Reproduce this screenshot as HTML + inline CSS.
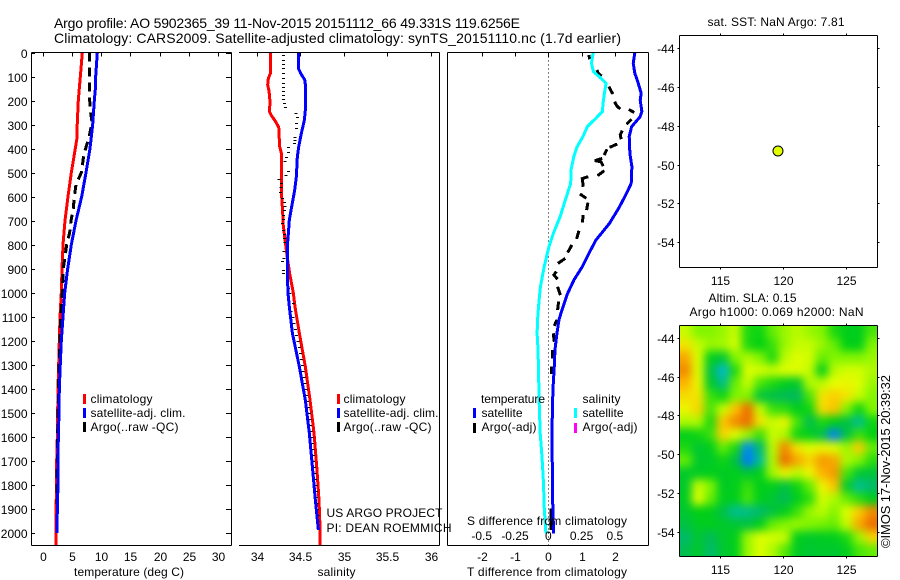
<!DOCTYPE html>
<html>
<head>
<meta charset="utf-8">
<title>Argo profile 5902365_39</title>
<style>
html,body{margin:0;padding:0;background:#fff;}
svg{display:block;}
text{font-family:"Liberation Sans",sans-serif;font-size:12px;fill:#000;}
.t14{font-size:14px;}
</style>
</head>
<body>
<svg id="fig" xmlns="http://www.w3.org/2000/svg" width="900" height="580" viewBox="0 0 900 580">
<defs>
<clipPath id="heatClip"><rect x="680" y="326" width="197" height="230"/></clipPath>
<filter id="heatBlur" x="-10%" y="-10%" width="120%" height="120%" color-interpolation-filters="sRGB"><feGaussianBlur stdDeviation="4.4"/></filter>
</defs>
<rect width="900" height="580" fill="#fff"/>

<text class="t14" x="54" y="28" textLength="466" lengthAdjust="spacing">Argo profile: AO 5902365_39 11-Nov-2015 20151112_66 49.331S 119.6256E</text>
<text class="t14" x="54" y="43" textLength="567" lengthAdjust="spacing">Climatology: CARS2009. Satellite-adjusted climatology: synTS_20151110.nc (1.7d earlier)</text>

<g id="temp-panel"></g>
<g id="sal-panel"></g>
<g id="diff-panel"></g>
<g id="sst-map"></g>
<g id="sla-map"></g>

<text x="74" y="576" textLength="110" lengthAdjust="spacing">temperature (deg C)</text>
<text x="317.5" y="576" textLength="38" lengthAdjust="spacing">salinity</text>
<text x="467" y="576" textLength="160" lengthAdjust="spacing">T difference from climatology</text>
<text x="467" y="525" textLength="160" lengthAdjust="spacing">S difference from climatology</text>

<g>
<rect x="83" y="394" width="3" height="10" fill="#f00"/>
<text x="90.5" y="403" textLength="62" lengthAdjust="spacing">climatology</text>
<rect x="83" y="408" width="3" height="10" fill="#00f"/>
<text x="90.5" y="417" textLength="95" lengthAdjust="spacing">satellite-adj. clim.</text>
<rect x="83" y="422" width="3" height="10" fill="#000"/>
<text x="90.5" y="431" textLength="88" lengthAdjust="spacing">Argo(..raw -QC)</text>
</g>
<g>
<rect x="337" y="394" width="3" height="10" fill="#f00"/>
<text x="343.5" y="403" textLength="62" lengthAdjust="spacing">climatology</text>
<rect x="337" y="408" width="3" height="10" fill="#00f"/>
<text x="343.5" y="417" textLength="95" lengthAdjust="spacing">satellite-adj. clim.</text>
<rect x="337" y="422" width="3" height="10" fill="#000"/>
<text x="343.5" y="431" textLength="88" lengthAdjust="spacing">Argo(..raw -QC)</text>
</g>
<g>
<text x="481" y="403" textLength="64" lengthAdjust="spacing">temperature</text>
<text x="582.5" y="403" textLength="38" lengthAdjust="spacing">salinity</text>
<rect x="473" y="408" width="3" height="10" fill="#00f"/>
<text x="481.5" y="417" textLength="41" lengthAdjust="spacing">satellite</text>
<rect x="473" y="423" width="3" height="10" fill="#000"/>
<text x="481.5" y="431" textLength="55" lengthAdjust="spacing">Argo(-adj)</text>
<rect x="574" y="408" width="3" height="10" fill="#0ff"/>
<text x="582.5" y="417" textLength="41" lengthAdjust="spacing">satellite</text>
<rect x="574" y="423" width="3" height="10" fill="#f0f"/>
<text x="582.5" y="431" textLength="55" lengthAdjust="spacing">Argo(-adj)</text>
</g>

<text x="326.5" y="517" textLength="116" lengthAdjust="spacing">US ARGO PROJECT</text>
<text x="326.5" y="532" textLength="125" lengthAdjust="spacing">PI: DEAN ROEMMICH</text>

<text x="707.5" y="26" textLength="137" lengthAdjust="spacing">sat. SST: NaN Argo: 7.81</text>
<text x="708.5" y="302" textLength="88" lengthAdjust="spacing">Altim. SLA: 0.15</text>
<text x="689.5" y="316" textLength="174" lengthAdjust="spacing">Argo h1000: 0.069 h2000: NaN</text>
<text transform="translate(890,548) rotate(-90)" style="font-size:13px" textLength="173" lengthAdjust="spacing">©IMOS 17-Nov-2015 20:39:32</text>
</svg>

<script>
// ---------- axis tick labels ----------
var depthTicks = [0,100,200,300,400,500,600,700,800,900,1000,1100,1200,1300,1400,1500,1600,1700,1800,1900,2000];
var tempTicks = [0,5,10,15,20,25,30];
var salTicks = [34,34.5,35,35.5,36];
var tDiffTicks = [-2,-1,0,1,2];
var sDiffTicks = [-0.5,-0.25,0,0.25,0.5];
var lonTicks = [115,120,125];
var latTicks = [-44,-46,-48,-50,-52,-54];

// ---------- temperature profiles ----------
var tempClimDepth = [0,100,200,300,350,400,500,600,700,800,900,1000,1100,1200,1300,1400,1500,1600,1700,1800,1900,2000,2052];
var tempClim = [6.77,6.43,6.08,5.9,5.9,5.57,4.89,4.32,3.81,3.47,3.3,3.18,2.96,2.84,2.73,2.61,2.56,2.5,2.39,2.39,2.27,2.27,2.27];
var tempSatDepth = [0,100,150,200,300,400,500,600,700,800,900,1000,1100,1200,1300,1400,1500,1600,1700,1800,1900,2000];
var tempSat = [9.33,9.05,9.0,8.82,8.54,8.08,7.4,6.66,5.69,4.89,4.27,3.76,3.47,3.18,3.0,2.84,2.78,2.67,2.61,2.61,2.5,2.44];
var tempArgoDepth = [0,180,240,290,360,420,500,550,600,650,700,750,800,850,900,1000,1100,1200,1300,1400,1600,1880];
var tempArgo = [7.97,7.97,8.14,8.42,7.86,7.06,6.6,5.69,5.4,5.23,4.84,4.6,4.1,3.81,3.52,3.35,3.1,2.95,2.78,2.7,2.55,2.4];

// ---------- salinity profiles ----------
var salClimDepth = [0,87,107,135,160,205,246,264,288,311,392,420,503,600,670,711,780,836,864,920,1002,1058,1168,1308,1447,1585,1724,1863,2000,2052];
var salClim = [34.157,34.157,34.134,34.126,34.142,34.153,34.146,34.172,34.218,34.253,34.264,34.284,34.287,34.287,34.299,34.303,34.326,34.345,34.356,34.379,34.421,34.44,34.49,34.559,34.613,34.659,34.69,34.716,34.73,34.73];
var salSatDepth = [0,66,87,114,142,225,281,337,392,434,517,572,642,697,753,808,920,1002,1058,1168,1308,1447,1585,1724,1863,1988];
var salSat = [34.479,34.479,34.506,34.552,34.563,34.563,34.548,34.513,34.483,34.467,34.456,34.437,34.402,34.375,34.364,34.352,34.352,34.36,34.375,34.41,34.49,34.559,34.605,34.64,34.674,34.709];
var salArgoDepth = [10,31,48,66,87,108,126,142,160,177,195,212,228,250,267,295,316,350,364,378,395,413,434,450,492,511,528,545,559,579,607,621,638,656,677,693,711,739,756,773,787,825,857,866,905,919,982,1003,1044,1075,1100,1125,1150,1175,1200,1225,1250,1275,1300,1325,1350,1375,1400,1425,1450,1475,1500,1525,1550,1575,1600,1625,1650,1675,1700,1725,1750,1775,1800,1825,1850,1875,1900,1925,1950];
var salArgo = [34.307,34.307,34.307,34.307,34.307,34.307,34.307,34.307,34.307,34.307,34.307,34.318,34.33,34.452,34.471,34.46,34.46,34.441,34.441,34.433,34.364,34.364,34.345,34.326,34.364,34.337,34.257,34.287,34.28,34.276,34.295,34.318,34.326,34.318,34.307,34.307,34.299,34.307,34.318,34.318,34.326,34.314,34.314,34.299,34.307,34.307,34.364,34.383,34.421,34.395,34.415,34.43,34.445,34.46,34.475,34.49,34.505,34.515,34.525,34.535,34.545,34.555,34.565,34.575,34.585,34.595,34.605,34.61,34.62,34.625,34.635,34.64,34.645,34.65,34.655,34.665,34.67,34.675,34.68,34.685,34.69,34.695,34.7,34.705,34.705];

// ---------- difference profiles ----------
var tDiffSatDepth = [0,45,87,128,170,198,246,267,309,350,420,475,545,586,642,711,781,836,892,947,1003,1072,1113,1169,1238,1308,1377,1446,1585,1724,1863,2002];
var tDiffSat = [2.6,2.55,2.6,2.7,2.79,2.76,2.81,2.76,2.5,2.43,2.45,2.51,2.49,2.35,2.14,1.84,1.43,1.22,1.02,0.77,0.58,0.41,0.32,0.26,0.2,0.18,0.15,0.13,0.11,0.12,0.13,0.16];
var sDiffSatDepth = [0,45,80,101,128,170,212,246,274,309,350,392,434,489,545,614,683,753,808,892,975,1030,1099,1169,1238,1308,1391,1446,1585,1655,1724,1793,1891,2002];
var sDiffSat = [0.337,0.324,0.339,0.383,0.434,0.421,0.411,0.406,0.357,0.293,0.26,0.217,0.191,0.171,0.168,0.128,0.089,0.038,0.005,-0.031,-0.059,-0.069,-0.079,-0.084,-0.077,-0.074,-0.071,-0.069,-0.061,-0.051,-0.043,-0.036,-0.031,-0.018];
// null marks a gap in the Argo record
var tDiffArgoDepth = [10,28,null,73,87,98,null,142,156,173,null,205,223,235,null,237,250,null,278,298,null,325,343,361,null,381,395,null,403,427,null,441,450,455,473,null,492,513,null,517,525,559,null,589,607,null,625,656,null,677,708,null,742,776,null,801,833,null,857,878,null,912,926,944,null,975,1010,null,1037,1072,null,1113,1138,null,1169,1204,null,1238,1273,null,1308,1338,null,1898,1988];
var tDiffArgo = [1.22,1.24,null,1.46,1.5,1.6,null,1.82,1.87,1.94,null,1.99,2.06,2.16,null,2.42,2.58,null,2.5,2.35,null,2.22,2.16,2.19,null,2.07,1.84,null,1.76,1.68,null,1.62,1.4,1.58,1.65,null,1.68,1.48,null,1.2,1.02,1.05,null,0.95,1.14,null,1.19,1.15,null,1.05,1.02,null,0.92,0.85,null,0.71,0.58,null,0.51,0.29,null,0.24,0.17,0.28,null,0.28,0.36,null,0.31,0.28,null,0.26,0.18,null,0.15,0.18,null,0.13,0.13,null,0.1,0.1,null,0.08,0.08];

// ---------- maps ----------
var floatLon = 119.6256;
var floatLat = -49.331;
var slaGrid = [
[1.6,1.0,1.0,1.2,1.6,0.3,0.2,0.8,1.2,1.5,1.2,1.0,0.3,0,0,0.6],
[2.2,1.6,1.2,1.3,1.7,0.3,0.1,0.5,1.2,1.6,1.6,1.2,0.8,0.1,0,1.0],
[2.8,1.8,0,-0.3,1.0,1.4,1.0,0.3,1.5,1.8,1.7,0.8,1.0,1.0,1.0,1.2],
[3,1.8,-0.5,-1.8,0.3,1.8,1.7,1.6,1.8,1.8,1.6,0,1.5,1.7,1.7,1.4],
[2.7,2.0,-0.2,-1.2,0.8,1.6,0.6,0.3,0,-0.2,1.4,1.5,1.9,2,1.8,1.2],
[2.3,2.2,0.5,0.2,1.0,1.0,-0.4,-0.6,-0.8,-0.9,0.6,2.2,2.5,2.2,1.6,1.0],
[2.0,2.4,0.6,1.6,2.6,3.5,1.6,0.5,0.4,0,0.2,2.3,2.6,1.0,0.2,1.0],
[1.4,1.4,0.3,2.6,3,3.9,2.2,1.6,2,0.6,-0.7,0.3,0.1,-0.5,-1.3,0.2],
[0,0.2,0.5,2.4,1.8,1.2,0.5,1.6,1.4,0.2,0,-0.6,-2.3,-0.5,0.5,0.1],
[0.3,-0.3,0,0.8,0.3,-2.2,-1.0,1.5,3,2.2,1.8,2,1.8,1.2,2.5,0.8],
[0.8,-0.2,-0.2,0.2,-0.5,-2.7,-1.3,1.4,3.7,2.8,2.4,2.9,2.8,1.4,1.0,0.4],
[-0.2,-0.1,0,-0.1,0,-0.3,0,1.3,2,1.5,2.0,2.7,2.9,0.6,-0.3,-0.4],
[-0.2,1.6,1.0,-0.1,0,0.5,0,0,-0.5,0.2,0.8,2,2.6,-0.2,-1.3,-1.0],
[-0.1,1.8,0.8,0,0,0.6,0,-0.3,-0.8,0,0.4,1.7,1.4,0.8,0.4,0],
[-0.3,0.1,0,-0.6,-1.3,-1.2,-1.0,-0.5,0,0.5,1.2,1.5,1.0,1.8,2.5,3],
[-0.5,-0.1,0,-0.2,-0.3,-0.5,0,0.8,1.0,1.2,1.0,0.9,0.8,1.6,2.8,3.6],
[-1,-0.3,-0.8,-0.2,0,1.2,1.8,1.7,1.6,0,-0.2,-0.1,0,0.3,1.2,2.4],
[-0.7,-0.2,-1,-0.3,0,1.2,1.8,1.4,0.7,-0.1,-0.3,-0.2,-0.3,0,0.6,0.8]
];

// ---------- axis functions ----------
function yDepth(d){ return 52.5 + d * 0.2402; }
function xTemp(t){ return 42.7 + t * 5.853; }
function xSal(s){ return 256.7 + (s - 34) * 87; }
function xTDiff(t){ return 548.3 + t * 33.3; }
function xSDiff(s){ return 548.3 + s * 133.2; }
function xLon(l){ return 719.7 + (l - 115) * 12.6; }
function yLat1(l){ return 48.3 + (-44 - l) * 19.37; }
function yLat2(l){ return 338 + (-44 - l) * 19.37; }

var NS = 'http://www.w3.org/2000/svg';
function add(parent, tag, attrs, name){
  var el = document.createElementNS(NS, tag);
  for (var k in attrs) el.setAttribute(k, attrs[k]);
  
  
  parent.appendChild(el);
  return el;
}
function seg(parent, x1, y1, x2, y2, name){
  return add(parent, 'line', {x1:x1, y1:y1, x2:x2, y2:y2, stroke:'#000', 'stroke-width':1, 'shape-rendering':'crispEdges'}, name);
}
function label(parent, x, y, str, anchor, name){
  var t = add(parent, 'text', {x:x, y:y, 'text-anchor':anchor}, name);
  t.textContent = str;
  return t;
}
function profile(parent, xs, ds, xf, color, width, name, dash){
  var d = '', pen = false;
  for (var i = 0; i < xs.length; i++){
    if (xs[i] === null || ds[i] === null){ pen = false; continue; }
    d += (pen ? 'L' : 'M') + xf(xs[i]).toFixed(2) + ' ' + yDepth(ds[i]).toFixed(2);
    pen = true;
  }
  var attrs = {d:d, fill:'none', stroke:color, 'stroke-width':width, 'stroke-linejoin':'miter', 'shape-rendering':'crispEdges'};
  if (dash) attrs['stroke-dasharray'] = dash;
  return add(parent, 'path', attrs, name);
}

var T = 52.5, B = 545.5;

// ---------- temperature panel ----------
var p1 = document.getElementById('temp-panel');
profile(p1, tempClim, tempClimDepth, xTemp, '#f00', 3, 'temperature-climatology-line');
profile(p1, tempArgo, tempArgoDepth, xTemp, '#000', 3, 'temperature-argo-line', '9 6');
profile(p1, tempSat, tempSatDepth, xTemp, '#00f', 3, 'temperature-satellite-line');
seg(p1, 31.5, T, 231.5, T, 'temperature-frame-top');
seg(p1, 31.5, B, 231.5, B, 'temperature-frame-bottom');
seg(p1, 31.5, T, 31.5, B, 'temperature-frame-left');
seg(p1, 231.5, T, 231.5, B, 'temperature-frame-right');
depthTicks.forEach(function(d){
  var y = Math.round(yDepth(d)) + 0.5;
  seg(p1, 31.5, y, 35, y, 'depth-tick-left');
  seg(p1, 226, y, 231.5, y, 'depth-tick-right');
  label(p1, 27.5, y + 4.5, String(d), 'end', 'depth-tick-label');
});
tempTicks.forEach(function(t){
  var x = Math.round(xTemp(t)) + 0.5;
  seg(p1, x, T, x, T + 4, 'temperature-tick');
  label(p1, x, 561, String(t), 'middle', 'temperature-tick-label');
});

// ---------- salinity panel ----------
var p2 = document.getElementById('sal-panel');
profile(p2, salClim, salClimDepth, xSal, '#f00', 3, 'salinity-climatology-line');
salArgo.forEach(function(s, i){
  var x = xSal(s), y = Math.round(yDepth(salArgoDepth[i])) + 0.5;
  seg(p2, x - 1.5, y, x + 1.5, y, 'salinity-argo-mark');
});
profile(p2, salSat, salSatDepth, xSal, '#00f', 3, 'salinity-satellite-line');
seg(p2, 239, T, 439.5, T, 'salinity-frame-top');
seg(p2, 239, B, 439.5, B, 'salinity-frame-bottom');
seg(p2, 439.5, T, 439.5, B, 'salinity-frame-right');
salTicks.forEach(function(s){
  var x = Math.round(xSal(s)) + 0.5;
  seg(p2, x, T, x, T + 4, 'salinity-tick');
  label(p2, x, 561, String(s), 'middle', 'salinity-tick-label');
});

// ---------- difference panel ----------
var p3 = document.getElementById('diff-panel');
add(p3, 'line', {x1:548.5, y1:T, x2:548.5, y2:B, stroke:'#000', 'stroke-width':1, 'stroke-dasharray':'1 3', 'shape-rendering':'crispEdges'}, 'zero-difference-line');
profile(p3, tDiffArgo, tDiffArgoDepth, xTDiff, '#000', 3, 't-difference-argo-line');
profile(p3, tDiffSat, tDiffSatDepth, xTDiff, '#00f', 3, 't-difference-satellite-line');
profile(p3, sDiffSat, sDiffSatDepth, xSDiff, '#0ff', 3, 's-difference-satellite-line');
seg(p3, 447.5, T, 648.5, T, 'difference-frame-top');
seg(p3, 447.5, B, 648.5, B, 'difference-frame-bottom');
seg(p3, 447.5, T, 447.5, B, 'difference-frame-left');
seg(p3, 648.5, T, 648.5, B, 'difference-frame-right');
tDiffTicks.forEach(function(t){
  var x = Math.round(xTDiff(t)) + 0.5;
  seg(p3, x, T, x, T + 4, 't-difference-tick');
  label(p3, x, 561, String(t), 'middle', 't-difference-tick-label');
});
sDiffTicks.forEach(function(s){
  label(p3, xSDiff(s), 540, String(s), 'middle', 's-difference-tick-label');
});

// ---------- maps ----------
function mapFrame(g, top, bottom, yLat, labelY, prefix){
  seg(g, 679.5, top, 877.5, top, prefix + '-frame-top');
  seg(g, 679.5, bottom, 877.5, bottom, prefix + '-frame-bottom');
  seg(g, 679.5, top, 679.5, bottom, prefix + '-frame-left');
  seg(g, 877.5, top, 877.5, bottom, prefix + '-frame-right');
  lonTicks.forEach(function(l){
    var x = Math.round(xLon(l)) + 0.5;
    seg(g, x, top - 2, x, top, prefix + '-lon-tick-top');
    seg(g, x, bottom, x, bottom + 2, prefix + '-lon-tick-bottom');
    label(g, x, labelY, String(l), 'middle', prefix + '-lon-label');
  });
  latTicks.forEach(function(l){
    var y = Math.round(yLat(l)) + 0.5;
    seg(g, 677.5, y, 679.5, y, prefix + '-lat-tick-left');
    seg(g, 877.5, y, 879.5, y, prefix + '-lat-tick-right');
    label(g, 674.5, y + 4.5, String(l), 'end', prefix + '-lat-label');
  });
}
var m1 = document.getElementById('sst-map');
mapFrame(m1, 35.5, 267.5, yLat1, 285, 'sst-map');
add(m1, 'circle', {cx:xLon(floatLon), cy:yLat1(floatLat) - 0.6, r:5, fill:'#e2ff00', stroke:'#000', 'stroke-width':1}, 'argo-float-position');

var cmapStops = [
  [-2.4,[0,120,255]],
  [-1.7,[0,195,200]],
  [-0.9,[0,185,95]],
  [0.1,[0,208,20]],
  [1,[130,245,0]],
  [1.9,[232,255,0]],
  [2.6,[255,195,0]],
  [3.2,[235,110,0]]
];
function slaColor(v){
  if (v <= cmapStops[0][0]) return 'rgb(' + cmapStops[0][1].join(',') + ')';
  for (var i = 1; i < cmapStops.length; i++){
    if (v <= cmapStops[i][0]){
      var a = cmapStops[i-1], b = cmapStops[i], f = (v - a[0]) / (b[0] - a[0]);
      return 'rgb(' + [0,1,2].map(function(c){ return Math.round(a[1][c] + f * (b[1][c] - a[1][c])); }).join(',') + ')';
    }
  }
  return 'rgb(' + cmapStops[cmapStops.length-1][1].join(',') + ')';
}
var m2 = document.getElementById('sla-map');
var heatClip = add(m2, 'g', {'clip-path':'url(#heatClip)'}, 'sla-heatmap');
var heatBlur = add(heatClip, 'g', {filter:'url(#heatBlur)'}, 'sla-heatmap-cells');
var nRows = slaGrid.length, nCols = slaGrid[0].length;
var cellW = 198 / nCols, cellH = 231 / nRows;
slaGrid.forEach(function(row, r){
  row.forEach(function(v, c){
    var x = 679.5 + c * cellW, y = 325.5 + r * cellH, w = cellW + 0.6, h = cellH + 0.6;
    if (c === 0){ x -= 20; w += 20; }
    if (c === nCols - 1){ w += 20; }
    if (r === 0){ y -= 20; h += 20; }
    if (r === nRows - 1){ h += 20; }
    add(heatBlur, 'rect', {x:x, y:y, width:w, height:h, fill:slaColor(v)}, 'sla-cell');
  });
});
mapFrame(m2, 325.5, 556.5, yLat2, 574, 'sla-map');
</script>
</body>
</html>
